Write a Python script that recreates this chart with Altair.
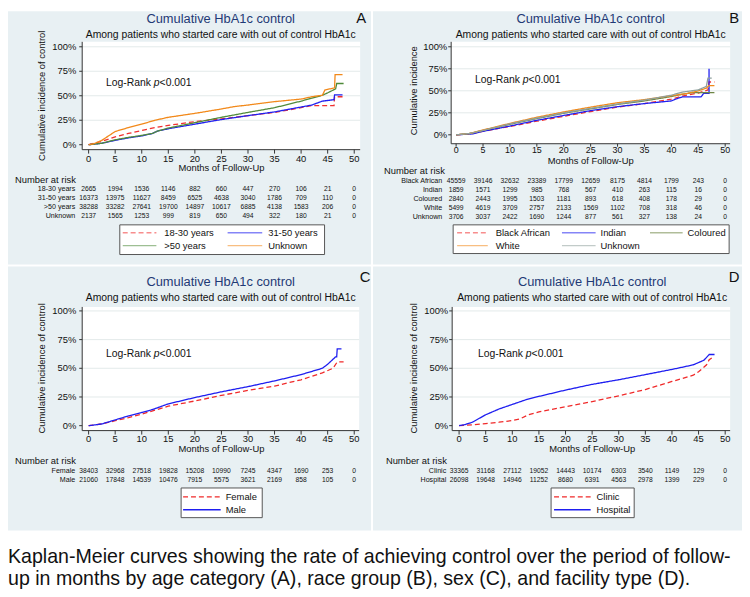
import altair as alt
import pandas as pd

FONT = "Liberation Sans"
BG = "#e8f0f3"
NAVY = "#1f3a76"
INK = "#111111"
AXIS_INK = "#333333"

MONTH_TICKS = [0, 5, 10, 15, 20, 25, 30, 35, 40, 45, 50]
PCT_TICKS = [0, 25, 50, 75, 100]
PCT_LABELS = ["0%", "25%", "50%", "75%", "100%"]
RISK_MONTHS = [0, 5, 10, 15, 20, 25, 30, 35, 40, 45, 50]

TITLE = "Cumulative HbA1c control"
SUBTITLE = "Among patients who started care with out of control HbA1c"
XTITLE = "Months of Follow-Up"
CAPTION_1 = "Kaplan-Meier curves showing the rate of achieving control over the period of follow-"
CAPTION_2 = "up in months by age category (A), race group (B), sex (C), and facility type (D)."

# ---------------- Panel A: age category ----------------
A_groups = ["18-30 years", "31-50 years", ">50 years", "Unknown"]
A_colors = ["#f03030", "#2020f0", "#4f8a3a", "#f2891a"]
A_t_1830 = [0, 2.5, 5, 7.5, 10, 12.5, 15, 20, 25, 30, 35, 40, 42, 46.2, 46.3, 47.8]
A_v_1830 = [0, 3.5, 8, 11.5, 14.5, 17.5, 19.7, 23.6, 26.4, 29.7, 33, 37.8, 40, 40, 49, 49]
A_t_3150 = [0, 2.5, 5, 7.5, 10, 12, 13, 15, 20, 25, 30, 35, 40, 42, 44, 46.2, 46.3, 47.8]
A_v_3150 = [0, 1.5, 4.5, 7, 9, 11.5, 14, 16.3, 21, 25.7, 29.7, 33.5, 38.5, 40.5, 44.5, 46, 51, 51]
A_t_50 = [0, 2.5, 5, 7.5, 10, 12, 13, 15, 20, 25, 30, 35, 40, 42, 44, 45, 46.5, 46.7, 48]
A_v_50 = [0, 1.5, 5, 7.5, 9.5, 11.5, 14, 17, 22.5, 28, 33, 37.8, 44.5, 47.5, 50.5, 53, 57, 62.5, 62.5]
A_t_unk = [0, 1, 2.5, 5, 7.5, 10, 12.5, 15, 20, 25, 27.5, 30, 35, 40, 42, 44, 44.5, 46.3, 46.4, 47.8]
A_v_unk = [0, 1, 4.5, 13.5, 17.5, 21, 25, 28, 32, 36.5, 39, 40.5, 44, 46.6, 49, 50.5, 56, 58, 71.5, 71.5]
A_risk_1830 = [2665, 1994, 1536, 1146, 882, 660, 447, 270, 106, 21, 0]
A_risk_3150 = [16373, 13975, 11627, 8459, 6525, 4638, 3040, 1786, 709, 110, 0]
A_risk_50 = [38288, 33282, 27641, 19700, 14897, 10617, 6885, 4138, 1583, 206, 0]
A_risk_unk = [2137, 1565, 1253, 999, 819, 650, 494, 322, 180, 21, 0]

# ---------------- Panel B: race group ----------------
B_groups = ["Black African", "Indian", "Coloured", "White", "Unknown"]
B_colors = ["#f03030", "#2020f0", "#6f8646", "#f2891a", "#8fa09c"]
B_t_black = [0, 2.5, 5, 10, 15, 20, 25, 30, 35, 40, 42, 45, 46.8, 47, 48]
B_v_black = [0, 1, 4, 9.5, 15.5, 21, 26.5, 31.5, 35.5, 40.5, 44, 47.5, 51, 60, 60]
B_t_indian = [0, 3, 5, 10, 15, 20, 25, 30, 35, 40, 41, 42, 45.5, 46, 47, 47]
B_v_indian = [0, 1, 4, 10, 16.5, 22, 27.5, 32, 35.5, 38.5, 41, 43, 43, 47, 47, 75]
B_t_col = [0, 2.5, 5, 10, 15, 20, 25, 30, 35, 40, 42, 44, 48]
B_v_col = [0, 1.5, 5, 12, 18.5, 24.5, 29.5, 34.5, 38.5, 43.5, 46, 48, 48]
B_t_white = [0, 2.5, 5, 10, 15, 20, 25, 30, 35, 40, 43, 45, 46.5, 47, 48]
B_v_white = [0, 1.5, 5.5, 13, 20, 26, 31.5, 36.5, 40, 44.5, 47, 50, 53, 56, 56]
B_t_unk = [0, 2.5, 5, 10, 15, 20, 25, 30, 35, 40, 42, 45, 46.5, 46.8, 47.5]
B_v_unk = [0, 1.5, 5, 12.5, 19, 25, 30, 35, 39.5, 45, 48.5, 51, 55, 64.5, 64.5]
B_risk_black = [45559, 39146, 32632, 23389, 17799, 12659, 8175, 4814, 1799, 243, 0]
B_risk_indian = [1859, 1571, 1299, 985, 768, 567, 410, 263, 115, 16, 0]
B_risk_col = [2840, 2443, 1995, 1503, 1181, 893, 618, 408, 178, 29, 0]
B_risk_white = [5499, 4619, 3709, 2757, 2133, 1569, 1102, 708, 318, 46, 0]
B_risk_unk = [3706, 3037, 2422, 1690, 1244, 877, 561, 327, 138, 24, 0]

# ---------------- Panel C: sex ----------------
C_groups = ["Female", "Male"]
C_colors = ["#f02a2a", "#1e1ef0"]
C_t_female = [0, 2.5, 5, 7.5, 10, 12.5, 15, 20, 25, 30, 35, 40, 44, 46, 46.8, 48]
C_v_female = [0, 1.5, 4.3, 7, 10, 13.5, 17, 21.5, 26.4, 30.7, 34.5, 40, 46, 50, 55.5, 55.5]
C_t_male = [0, 2.5, 5, 7.5, 10, 12, 15, 20, 25, 30, 35, 40, 44, 45, 46.5, 46.7, 46.8, 47.6]
C_v_male = [0, 1.5, 5, 8.5, 11.5, 14, 19, 24.5, 29.5, 34, 39, 44.5, 50, 53.5, 60, 60, 67, 67]
C_risk_female = [38403, 32968, 27518, 19828, 15208, 10990, 7245, 4347, 1690, 253, 0]
C_risk_male = [21060, 17848, 14539, 10476, 7915, 5575, 3621, 2169, 858, 105, 0]

# ---------------- Panel D: facility type ----------------
D_groups = ["Clinic", "Hospital"]
D_colors = ["#f02a2a", "#1e1ef0"]
D_t_clinic = [0, 2.5, 5, 7.5, 10, 11.5, 13, 15, 20, 25, 30, 35, 40, 44, 45, 46.5, 47, 47.5, 48]
D_v_clinic = [0, 0.8, 1.8, 3, 4.5, 6, 9.5, 12, 16.5, 21, 26, 31.5, 38.5, 44, 47, 53, 57.5, 59, 59]
D_t_hosp = [0, 1, 2.5, 5, 7.5, 10, 12.5, 15, 20, 25, 30, 35, 40, 44, 46, 47, 48]
D_v_hosp = [0, 0.8, 3, 9.5, 14.5, 18.5, 22.5, 25.5, 31, 36, 40, 44.5, 49, 53, 57, 62, 62]
D_risk_clinic = [33365, 31168, 27112, 19052, 14443, 10174, 6303, 3540, 1149, 129, 0]
D_risk_hosp = [26098, 19648, 14946, 11252, 8680, 6391, 4563, 2978, 1399, 229, 0]

ONE = alt.Data(values=[{"k": 0}])
DASHED = [5, 3]
SOLID = [1, 0]


def text_layer(x, y, txt, size, color=INK, align="left", baseline="middle", style="normal", angle=0):
    return alt.Chart(ONE).mark_text(
        text=txt, font=FONT, fontSize=size, color=color, align=align,
        baseline=baseline, fontStyle=style, angle=angle
    ).encode(x=alt.value(x), y=alt.value(y))


def build_panel(P):
    ox, oy = P["offset"]
    W, H = P["size"]
    X = lambda v: v - ox
    Y = lambda v: v - oy
    xs = alt.Scale(domain=[0, 50], range=[X(P["x0"]), X(P["x50"])], nice=False, zero=False)
    ys = alt.Scale(domain=[0, 100], range=[Y(P["y0"]), Y(P["y100"])], nice=False, zero=False)
    L, T, R, B = P["plot"]
    groups = P["groups"]
    colors = P["colors"]
    dashes = [DASHED] + [SOLID] * (len(groups) - 1)
    layers = []
    # plot region
    layers.append(alt.Chart(ONE).mark_rect(color="white").encode(
        x=alt.value(X(L)), x2=alt.value(X(R)), y=alt.value(Y(T)), y2=alt.value(Y(B))))
    grid = pd.DataFrame({"g": PCT_TICKS[1:]})
    layers.append(alt.Chart(grid).mark_rule(color="#e3eaea", strokeWidth=1).encode(
        y=alt.Y("g:Q", scale=ys, axis=None), x=alt.value(X(L)), x2=alt.value(X(R))))
    # axis lines
    layers.append(alt.Chart(ONE).mark_rule(color=AXIS_INK, strokeWidth=1).encode(
        x=alt.value(X(L)), y=alt.value(Y(T)), y2=alt.value(Y(B))))
    layers.append(alt.Chart(ONE).mark_rule(color=AXIS_INK, strokeWidth=1).encode(
        x=alt.value(X(L)), x2=alt.value(X(R)), y=alt.value(Y(B))))
    # x ticks + labels
    xt = pd.DataFrame({"m": MONTH_TICKS, "lab": [str(m) for m in MONTH_TICKS]})
    layers.append(alt.Chart(xt).mark_rule(color=AXIS_INK, strokeWidth=1).encode(
        x=alt.X("m:Q", scale=xs, axis=None), y=alt.value(Y(B)), y2=alt.value(Y(B) + P["xtick"])))
    layers.append(alt.Chart(xt).mark_text(font=FONT, fontSize=P["xlab_size"], color=INK, align="center",
                                          baseline="middle").encode(
        x=alt.X("m:Q", scale=xs, axis=None), y=alt.value(Y(P["xlab_y"])), text="lab:N"))
    xc = (X(P["x0"]) + X(P["x50"])) / 2
    layers.append(text_layer(xc, Y(P["xtitle_y"]), XTITLE, 9.5, align="center"))
    # y ticks + labels
    yt = pd.DataFrame({"p": PCT_TICKS, "lab": PCT_LABELS})
    layers.append(alt.Chart(yt).mark_rule(color=AXIS_INK, strokeWidth=1).encode(
        y=alt.Y("p:Q", scale=ys, axis=None), x=alt.value(X(L) - 3), x2=alt.value(X(L))))
    layers.append(alt.Chart(yt).mark_text(font=FONT, fontSize=9.5, color=INK, align="right",
                                          baseline="middle").encode(
        y=alt.Y("p:Q", scale=ys, axis=None), x=alt.value(X(P["ylab_x"])), text="lab:N"))
    yc = (Y(P["y0"]) + Y(P["y100"])) / 2
    layers.append(text_layer(X(P["ytitle_x"]), yc, P["ytitle"], 9.5, align="center", angle=270))

    # curves
    rows = []
    for g, ts, vs in zip(groups, P["times"], P["values"]):
        for i, (t, v) in enumerate(zip(ts, vs)):
            rows.append({"t": t, "v": v, "g": g, "i": i})
    df = pd.DataFrame(rows)
    layers.append(alt.Chart(df).mark_line(strokeWidth=1.3).encode(
        x=alt.X("t:Q", scale=xs, axis=None),
        y=alt.Y("v:Q", scale=ys, axis=None),
        color=alt.Color("g:N", scale=alt.Scale(domain=groups, range=colors), legend=None),
        strokeDash=alt.StrokeDash("g:N", scale=alt.Scale(domain=groups, range=dashes), legend=None),
        order=alt.Order("i:Q"),
    ))

    # titles
    tx = P["title_x"]
    layers.append(text_layer(X(tx), Y(16), TITLE, 13, color=NAVY, align="center"))
    layers.append(text_layer(X(tx), Y(32), SUBTITLE, 10.5, align="center"))
    lx, ly = P["letter"]
    if Y(ly) - 7.5 < 0:
        layers.append(text_layer(X(lx), 0, P["name"], 15, align="center", baseline="top"))
    else:
        layers.append(text_layer(X(lx), Y(ly), P["name"], 15, align="center"))

    # log-rank annotation
    gx, gy = P["logrank"]
    f = 10.5
    w1 = 4.613 * f
    wp = 0.556 * f
    layers.append(text_layer(X(gx), Y(gy), "Log-Rank", f))
    layers.append(text_layer(X(gx) + w1, Y(gy), "p", f, style="italic"))
    layers.append(text_layer(X(gx) + w1 + wp, Y(gy), "<0.001", f))

    # number at risk table
    nx, ny = P["nar"]
    layers.append(text_layer(X(nx), Y(ny), "Number at risk", 9.5))
    for g, counts, ry in zip(groups, P["risk"], P["risk_rows"]):
        rdf = pd.DataFrame({"t": RISK_MONTHS, "n": [str(c) for c in counts]})
        layers.append(alt.Chart(rdf).mark_text(
            font=FONT, fontSize=6.8, color=INK, align="center", baseline="middle").encode(
            x=alt.X("t:Q", scale=xs, axis=None), y=alt.value(Y(ry)), text="n:N"))
        layers.append(text_layer(X(P["risk_lab_x"]), Y(ry), g, 7.2, align="right"))

    # legend
    bx0, by0, bx1, by1 = P["legend_box"]
    layers.append(alt.Chart(ONE).mark_rect(fill="white", stroke="#555555", strokeWidth=1).encode(
        x=alt.value(X(bx0)), x2=alt.value(X(bx1)), y=alt.value(Y(by0)), y2=alt.value(Y(by1))))
    for g, col, dash, (a0, a1, tt, yy) in zip(groups, colors, dashes, P["legend_items"]):
        layers.append(alt.Chart(ONE).mark_rule(
            color=col, strokeWidth=1.5, strokeDash=dash, opacity=P["legend_opacity"]).encode(
            x=alt.value(X(a0)), x2=alt.value(X(a1)), y=alt.value(Y(yy))))
        layers.append(text_layer(X(tt), Y(yy), g, 9.5))

    return alt.layer(*layers).properties(
        width=W, height=H, view=alt.ViewBackground(fill=BG, stroke=None))


panel_A = dict(
    name="A", offset=(8, 8), size=(367, 256), groups=A_groups, colors=A_colors,
    times=[A_t_1830, A_t_3150, A_t_50, A_t_unk], values=[A_v_1830, A_v_3150, A_v_50, A_v_unk],
    risk=[A_risk_1830, A_risk_3150, A_risk_50, A_risk_unk],
    x0=89.5, x50=358, y0=143, y100=44, plot=(83, 39, 364, 148),
    xtick=4, xlab_y=157, xlab_size=9.5, xtitle_y=167, ylab_x=77, ytitle_x=42,
    ytitle="Cumulative incidence of control",
    title_x=223, letter=(365, 12), logrank=(107, 81),
    nar=(15, 179), risk_rows=[188, 197, 206, 215], risk_lab_x=76,
    legend_box=(121, 224, 328, 254),
    legend_items=[(124, 158, 166, 232), (230, 265, 271, 232), (124, 158, 166, 245), (230, 265, 271, 245)],
    legend_opacity=0.55,
)

panel_B = dict(
    name="B", offset=(0, 8), size=(373, 256), groups=B_groups, colors=B_colors,
    times=[B_t_black, B_t_indian, B_t_col, B_t_white, B_t_unk],
    values=[B_v_black, B_v_indian, B_v_col, B_v_white, B_v_unk],
    risk=[B_risk_black, B_risk_indian, B_risk_col, B_risk_white, B_risk_unk],
    x0=84, x50=356, y0=133, y100=44, plot=(79, 39, 361, 142),
    xtick=3, xlab_y=148, xlab_size=9, xtitle_y=159, ylab_x=75, ytitle_x=41,
    ytitle="Cumulative incidence",
    title_x=220, letter=(365, 12), logrank=(103, 78),
    nar=(11, 170), risk_rows=[180, 189, 198, 207, 216], risk_lab_x=70,
    legend_box=(81, 224, 360, 253),
    legend_items=[(85, 116, 124, 232), (191, 225, 230, 232), (280, 313, 318, 232),
                  (85, 116, 124, 245), (191, 225, 230, 245)],
    legend_opacity=0.55,
)

panel_C = dict(
    name="C", offset=(8, 0), size=(367, 267), groups=C_groups, colors=C_colors,
    times=[C_t_female, C_t_male], values=[C_v_female, C_v_male],
    risk=[C_risk_female, C_risk_male],
    x0=89.5, x50=358, y0=161, y100=45, plot=(83, 41, 363, 166),
    xtick=4, xlab_y=175, xlab_size=9.5, xtitle_y=185, ylab_x=77, ytitle_x=42,
    ytitle="Cumulative incidence of control",
    title_x=223, letter=(369, 11), logrank=(107, 89),
    nar=(15, 197), risk_rows=[207, 216], risk_lab_x=76,
    legend_box=(183, 224, 265, 254),
    legend_items=[(185, 223, 228, 233), (185, 223, 228, 246)],
    legend_opacity=1.0,
)

panel_D = dict(
    name="D", offset=(0, 0), size=(373, 267), groups=D_groups, colors=D_colors,
    times=[D_t_clinic, D_t_hosp], values=[D_v_clinic, D_v_hosp],
    risk=[D_risk_clinic, D_risk_hosp],
    x0=87, x50=356, y0=161, y100=45, plot=(80, 41, 361, 166),
    xtick=4, xlab_y=175, xlab_size=9.5, xtitle_y=185, ylab_x=76, ytitle_x=41,
    ytitle="Cumulative incidence of control",
    title_x=221.5, letter=(365, 11), logrank=(106, 89),
    nar=(13, 197), risk_rows=[207, 216], risk_lab_x=74,
    legend_box=(180, 224, 264, 254),
    legend_items=[(183, 220, 226, 233), (183, 220, 226, 246)],
    legend_opacity=1.0,
)

RES = dict(x="independent", y="independent", color="independent", strokeDash="independent")

row1 = alt.hconcat(build_panel(panel_A), build_panel(panel_B), spacing=2).resolve_scale(**RES)
row2 = alt.hconcat(build_panel(panel_C), build_panel(panel_D), spacing=2).resolve_scale(**RES)

caption = alt.layer(
    text_layer(0, 31, CAPTION_1, 19.8, baseline="alphabetic"),
    text_layer(0, 53, CAPTION_2, 19.8, baseline="alphabetic"),
).properties(width=742, height=62, view=alt.ViewBackground(fill="white", stroke=None))

chart = (
    alt.vconcat(row1, row2, caption, spacing=2)
    .resolve_scale(**RES)
    .properties(padding=0, background="white")
    .configure(font=FONT)
    .configure_view(stroke=None)
)

chart.save("out.html", embed_options={"renderer": "svg", "actions": False})
